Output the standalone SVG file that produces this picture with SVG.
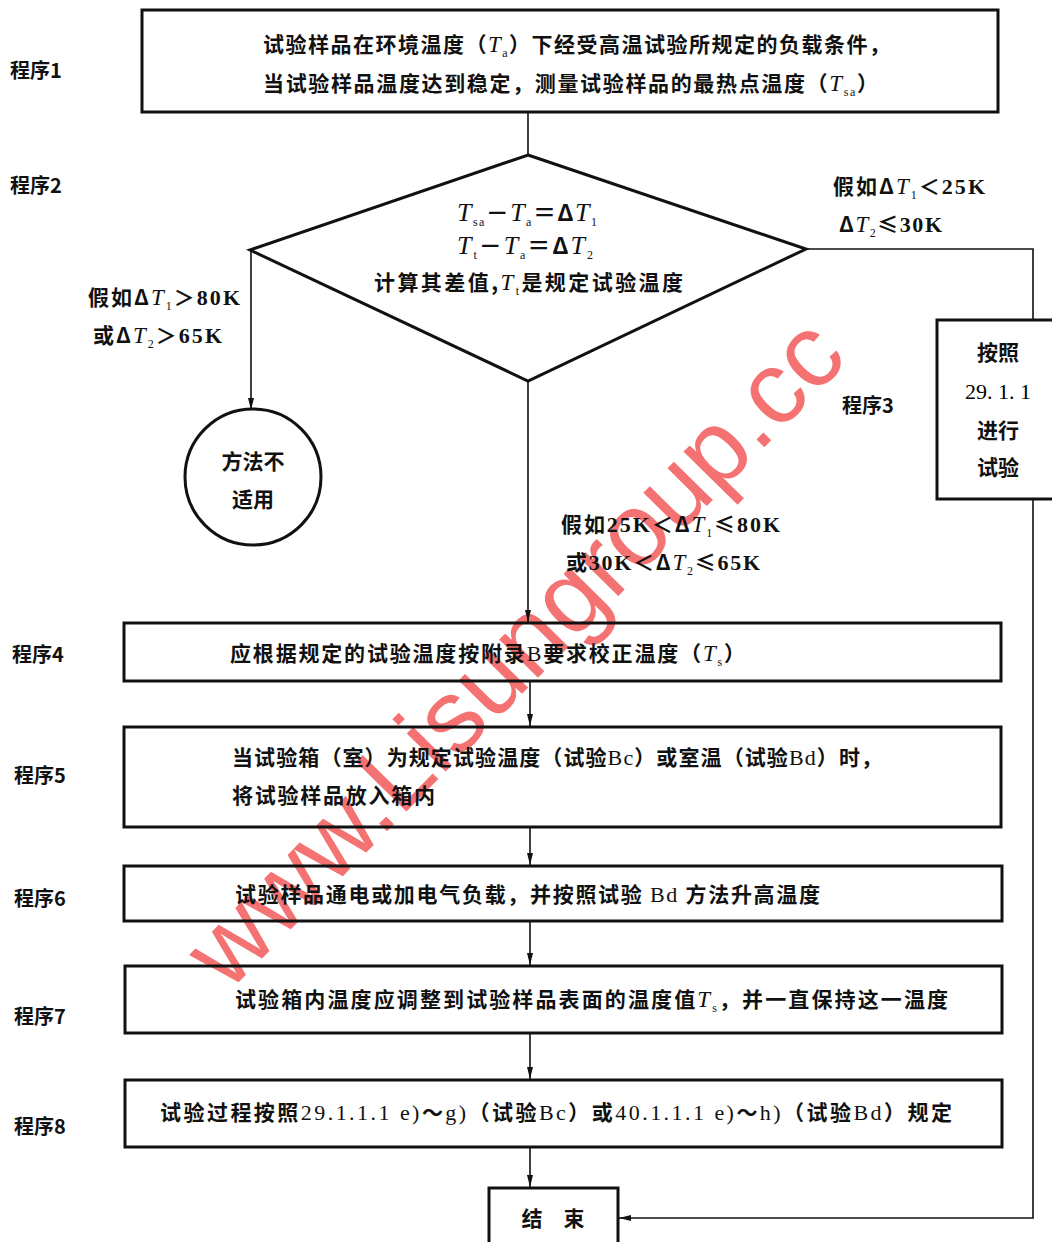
<svg xmlns="http://www.w3.org/2000/svg" width="1052" height="1242" viewBox="0 0 1052 1242">
<style>
.t{font-family:"Noto Sans CJK SC","Noto Sans CJK JP",sans-serif;font-size:21px;font-weight:700;fill:#111}
.f{font-size:23px}
.lb{font-family:"Noto Sans CJK SC",sans-serif;font-size:20px;font-weight:700;fill:#111}
.it{font-family:"Liberation Serif",serif;font-style:italic;font-weight:400;font-size:23px}
.it2{font-family:"Liberation Serif",serif;font-style:italic;font-weight:400;font-size:26px}
.sub{font-family:"Liberation Serif",serif;font-size:12px;font-weight:400;font-style:normal;baseline-shift:-5px}
.n{font-family:"Liberation Serif",serif;font-weight:700;font-size:22px}
.box{fill:none;stroke:#111;stroke-width:3}
.con{fill:none;stroke:#111;stroke-width:1.6}
.wm{font-family:"Liberation Sans",sans-serif;font-size:103px;fill:#f03c3c;opacity:0.72}
</style>
<defs>
<marker id="arr" viewBox="0 0 12 6" refX="12" refY="3" markerWidth="12" markerHeight="6" markerUnits="userSpaceOnUse" orient="auto">
<path d="M0,0 L12,3 L0,6 z" fill="#111"/>
</marker>
</defs>
<rect width="1052" height="1242" fill="#fff"/>

<text class="wm" transform="translate(228,993) rotate(-45.5)">www.Lisungroup.cc</text>

<g id="labels">
<text class="lb" x="10" y="78">程序1</text>
<text class="lb" x="10" y="193">程序2</text>
<text class="lb" x="842" y="413">程序3</text>
<text class="lb" x="12" y="662">程序4</text>
<text class="lb" x="14" y="783">程序5</text>
<text class="lb" x="14" y="906">程序6</text>
<text class="lb" x="14" y="1024">程序7</text>
<text class="lb" x="14" y="1134">程序8</text>
</g>

<g id="connectors">
<line class="con" x1="528" y1="112" x2="528" y2="155"/>
<line class="con" x1="251" y1="250" x2="251" y2="410" marker-end="url(#arr)"/>
<line class="con" x1="528" y1="381" x2="528" y2="622" marker-end="url(#arr)"/>
<polyline class="con" points="806,249 1033,249 1033,320"/>
<polyline class="con" points="1033,499 1033,1218 619,1218" marker-end="url(#arr)"/>
<line class="con" x1="530" y1="681" x2="530" y2="726" marker-end="url(#arr)"/>
<line class="con" x1="530" y1="827" x2="530" y2="865" marker-end="url(#arr)"/>
<line class="con" x1="530" y1="921" x2="530" y2="965" marker-end="url(#arr)"/>
<line class="con" x1="530" y1="1033" x2="530" y2="1079" marker-end="url(#arr)"/>
<line class="con" x1="530" y1="1147" x2="530" y2="1187" marker-end="url(#arr)"/>
</g>

<g id="cond-labels">
<text class="t" x="833" y="194" textLength="152" lengthAdjust="spacing">假如Δ<tspan class="it">T</tspan><tspan class="sub">1</tspan>＜<tspan class="n">25K</tspan></text>
<text class="t" x="839" y="232" textLength="103" lengthAdjust="spacing">Δ<tspan class="it">T</tspan><tspan class="sub">2</tspan>≤<tspan class="n">30K</tspan></text>
<text class="t" x="88" y="305" textLength="152" lengthAdjust="spacing">假如Δ<tspan class="it">T</tspan><tspan class="sub">1</tspan>＞<tspan class="n">80K</tspan></text>
<text class="t" x="93" y="343" textLength="129" lengthAdjust="spacing">或Δ<tspan class="it">T</tspan><tspan class="sub">2</tspan>＞<tspan class="n">65K</tspan></text>
<text class="t" x="561" y="532" textLength="219" lengthAdjust="spacing">假如<tspan class="n">25K</tspan>＜Δ<tspan class="it">T</tspan><tspan class="sub">1</tspan>≤<tspan class="n">80K</tspan></text>
<text class="t" x="566" y="570" textLength="194" lengthAdjust="spacing">或<tspan class="n">30K</tspan>＜Δ<tspan class="it">T</tspan><tspan class="sub">2</tspan>≤<tspan class="n">65K</tspan></text>
</g>

<g id="step1">
<rect class="box" x="142" y="10" width="856" height="102"/>
<text class="t" x="263" y="52" textLength="627" lengthAdjust="spacing">试验样品在环境温度（<tspan class="it">T</tspan><tspan class="sub">a</tspan>）下经受高温试验所规定的负载条件，</text>
<text class="t" x="263" y="91" textLength="615" lengthAdjust="spacing">当试验样品温度达到稳定，测量试验样品的最热点温度（<tspan class="it">T</tspan><tspan class="sub">sa</tspan>）</text>
</g>

<g id="step2">
<polygon points="528,155 806,249 528,381 250,250" fill="none" stroke="#111" stroke-width="3"/>
<text class="t f" x="457" y="221" textLength="140" lengthAdjust="spacing"><tspan class="it2">T</tspan><tspan class="sub">sa</tspan>－<tspan class="it2">T</tspan><tspan class="sub">a</tspan>＝Δ<tspan class="it2">T</tspan><tspan class="sub">1</tspan></text>
<text class="t f" x="457" y="254" textLength="136" lengthAdjust="spacing"><tspan class="it2">T</tspan><tspan class="sub">t</tspan>－<tspan class="it2">T</tspan><tspan class="sub">a</tspan>＝Δ<tspan class="it2">T</tspan><tspan class="sub">2</tspan></text>
<text class="t" x="374" y="290" textLength="309" lengthAdjust="spacing">计算其差值,<tspan class="it">T</tspan><tspan class="sub">t</tspan>是规定试验温度</text>
</g>

<g id="not-applicable">
<circle cx="253" cy="477" r="68" fill="none" stroke="#111" stroke-width="3"/>
<text class="t" x="253" y="469" text-anchor="middle">方法不</text>
<text class="t" x="253" y="507" text-anchor="middle">适用</text>
</g>

<g id="step3">
<rect class="box" x="937" y="320" width="130" height="179"/>
<text class="t" x="998" y="360" text-anchor="middle">按照</text>
<text class="n" x="998" y="399" text-anchor="middle" style="font-weight:400">29. 1. 1</text>
<text class="t" x="998" y="438" text-anchor="middle">进行</text>
<text class="t" x="998" y="475" text-anchor="middle">试验</text>
</g>

<g id="step4">
<rect class="box" x="124" y="623" width="877" height="58"/>
<text class="t" x="230" y="661" textLength="515" lengthAdjust="spacing">应根据规定的试验温度按附录<tspan class="n" style="font-weight:400">B</tspan>要求校正温度（<tspan class="it">T</tspan><tspan class="sub">s</tspan>）</text>
</g>

<g id="step5">
<rect class="box" x="124" y="727" width="877" height="100"/>
<text class="t" x="232" y="765" textLength="650" lengthAdjust="spacing">当试验箱（室）为规定试验温度（试验<tspan class="n" style="font-weight:400">Bc</tspan>）或室温（试验<tspan class="n" style="font-weight:400">Bd</tspan>）时，</text>
<text class="t" x="232" y="803" textLength="203" lengthAdjust="spacing">将试验样品放入箱内</text>
</g>

<g id="step6">
<rect class="box" x="124" y="866" width="878" height="55"/>
<text class="t" x="235" y="902" textLength="585" lengthAdjust="spacing">试验样品通电或加电气负载，并按照试验 <tspan class="n" style="font-weight:400">Bd</tspan> 方法升高温度</text>
</g>

<g id="step7">
<rect class="box" x="125" y="966" width="877" height="67"/>
<text class="t" x="235" y="1007" textLength="713" lengthAdjust="spacing">试验箱内温度应调整到试验样品表面的温度值<tspan class="it">T</tspan><tspan class="sub">s</tspan>，并一直保持这一温度</text>
</g>

<g id="step8">
<rect class="box" x="125" y="1080" width="877" height="67"/>
<text class="t" x="160" y="1120" textLength="792" lengthAdjust="spacing">试验过程按照<tspan class="n" style="font-weight:400">29.1.1.1 e)</tspan>～<tspan class="n" style="font-weight:400">g)</tspan>（试验<tspan class="n" style="font-weight:400">Bc</tspan>）或<tspan class="n" style="font-weight:400">40.1.1.1 e)</tspan>～<tspan class="n" style="font-weight:400">h)</tspan>（试验<tspan class="n" style="font-weight:400">Bd</tspan>）规定</text>
</g>

<g id="end">
<rect class="box" x="489" y="1188" width="129" height="70"/>
<text class="t" x="553" y="1226" text-anchor="middle">结　束</text>
</g>
</svg>
